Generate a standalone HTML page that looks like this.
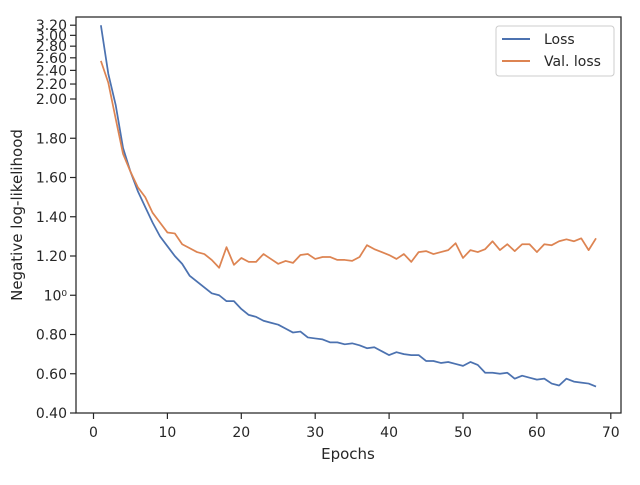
<!DOCTYPE html>
<html><head><meta charset="utf-8"><style>
body{margin:0;background:#fff;}
svg text{font-family:"DejaVu Sans","Liberation Sans",sans-serif;fill:#262626;}
</style></head><body>
<svg id="chart" width="640" height="480" viewBox="0 0 640 480" xmlns="http://www.w3.org/2000/svg">
<g id="grid"></g>
<g id="series"></g>
<rect x="76" y="17" width="545" height="396" fill="none" stroke="#262626" stroke-width="1.25"/>
<g id="xaxis"></g>
<g id="yaxis"></g>
<text x="348" y="459" font-size="15" text-anchor="middle">Epochs</text>
<text transform="translate(22,215) rotate(-90)" font-size="15" text-anchor="middle">Negative log-likelihood</text>
<g>
<rect x="496" y="26" width="118" height="50" rx="3" fill="#fff" stroke="#ccc"/>
<g><line x1="502" y1="39" x2="530" y2="39" stroke="#4c72b0" stroke-width="2"/><text x="544" y="44" font-size="14">Loss</text></g>
<g><line x1="502" y1="61" x2="530" y2="61" stroke="#dd8452" stroke-width="2"/><text x="544" y="66" font-size="14">Val. loss</text></g>
</g>
</svg>
<script>
const epochs = Array.from({length:68},(_,i)=>i+1);
const lossValues = [3.20,2.35,1.97,1.75,1.63,1.53,1.45,1.37,1.30,1.25,1.20,1.16,1.10,1.07,1.04,1.01,1.00,0.97,0.97,0.93,0.90,0.89,0.87,0.86,0.85,0.83,0.81,0.815,0.785,0.78,0.775,0.76,0.76,0.75,0.755,0.745,0.73,0.735,0.715,0.695,0.71,0.70,0.695,0.695,0.665,0.665,0.655,0.66,0.65,0.64,0.66,0.645,0.605,0.605,0.60,0.605,0.575,0.59,0.58,0.57,0.575,0.55,0.54,0.575,0.56,0.555,0.55,0.535];
const valLossValues = [2.55,2.22,1.90,1.72,1.63,1.55,1.50,1.42,1.37,1.32,1.315,1.26,1.24,1.22,1.21,1.18,1.14,1.245,1.155,1.19,1.17,1.17,1.21,1.185,1.16,1.175,1.165,1.205,1.21,1.185,1.195,1.195,1.18,1.18,1.175,1.195,1.255,1.235,1.22,1.205,1.185,1.21,1.17,1.22,1.225,1.21,1.22,1.23,1.265,1.19,1.23,1.22,1.235,1.275,1.23,1.26,1.225,1.26,1.26,1.22,1.26,1.255,1.275,1.285,1.275,1.29,1.23,1.29];
const xTicks = [0,10,20,30,40,50,60,70];
const yTickValues = [0.4,0.6,0.8,1.0,1.2,1.4,1.6,1.8,2.0,2.2,2.4,2.6,2.8,3.0,3.2];
const yTickLabels = ["0.40","0.60","0.80","10⁰","1.20","1.40","1.60","1.80","2.00","2.20","2.40","2.60","2.80","3.00","3.20"];

const NS="http://www.w3.org/2000/svg";
function xScale(v){return 93.5 + v*7.39;}
function yScale(v){
  if(v<=2.0) return 413 - (v-0.4)*196.25;
  return 99 - Math.log(v/2)*157;
}
function mk(tag,attrs,parent){const e=document.createElementNS(NS,tag);for(const k in attrs)e.setAttribute(k,attrs[k]);parent.appendChild(e);return e;}
const xa=document.getElementById('xaxis'), ya=document.getElementById('yaxis'), sg=document.getElementById('series');
xTicks.forEach(t=>{
  const x=xScale(t);
  const l=mk('line',{x1:x,x2:x,y1:413,y2:419,stroke:'#262626','stroke-width':1.2},xa);
  
  
  const tx=mk('text',{x:x,y:437,'font-size':14,'text-anchor':'middle'},xa);
  tx.textContent=t;
  
  
});
yTickValues.forEach((v,i)=>{
  const y=yScale(v);
  const l=mk('line',{x1:70,x2:76,y1:y,y2:y,stroke:'#262626','stroke-width':1.2},ya);
  
  
  const tx=mk('text',{x:67,y:y+5,'font-size':14,'text-anchor':'end'},ya);
  tx.textContent=yTickLabels[i];
  
  
});
function line(vals,color,name){
  const d=vals.map((v,i)=>(i?'L':'M')+xScale(epochs[i]).toFixed(2)+' '+yScale(v).toFixed(2)).join(' ');
  const p=mk('path',{d:d,fill:'none',stroke:color,'stroke-width':1.75,'stroke-linejoin':'round'},sg);
  
  
}
line(lossValues,'#4c72b0','loss-line');
line(valLossValues,'#dd8452','val-loss-line');
</script>
</body></html>
